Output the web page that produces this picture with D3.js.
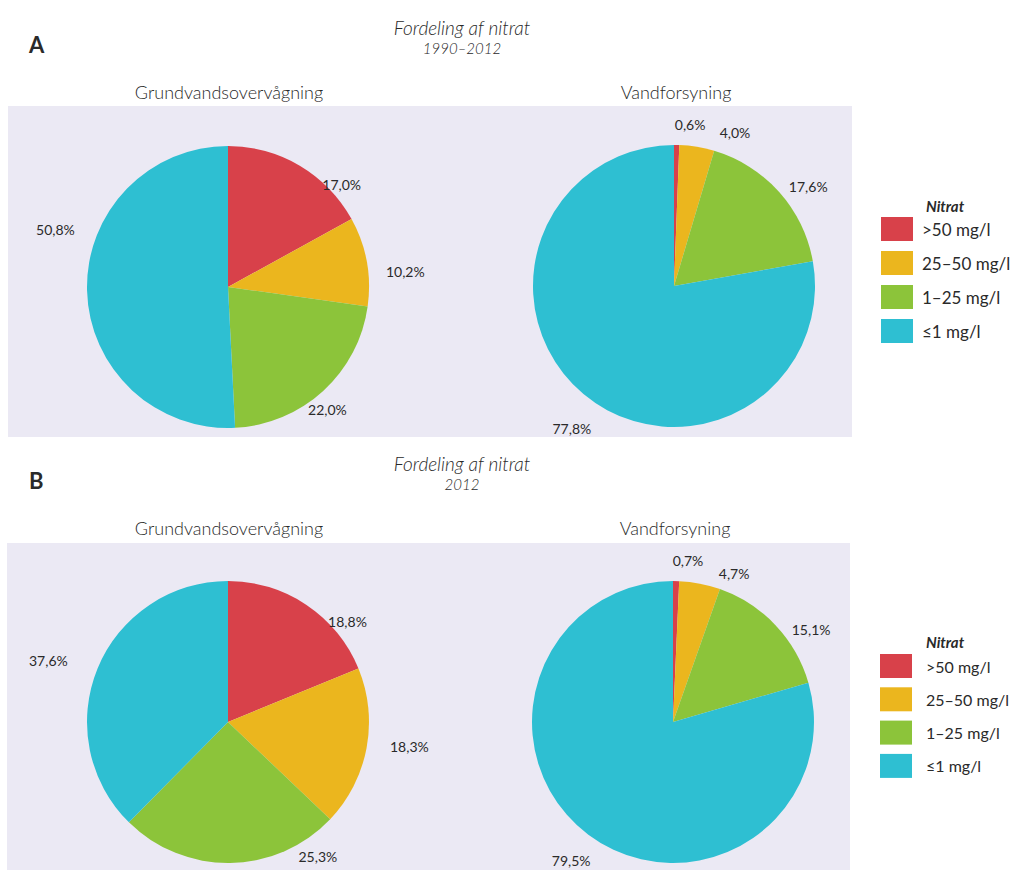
<!DOCTYPE html>
<html>
<head>
<meta charset="utf-8">
<script src="https://cdn.jsdelivr.net/npm/d3@7"></script>
<style>
  html, body { margin: 0; padding: 0; background: #ffffff; }
  svg { display: block; }
  text { font-family: Lato, "Open Sans", "DejaVu Sans", sans-serif; fill: #2a2a2a; }
</style>
</head>
<body>
<svg id="chart" width="1012" height="870"></svg>
<script>
// Nitrate concentration classes (clockwise from 12 o'clock)
const categories = [">50 mg/l", "25–50 mg/l", "1–25 mg/l", "≤1 mg/l"];
const categoryColors = ["#d8414a", "#ebb61e", "#8cc43a", "#2ebfd2"];

// Panel A: 1990–2012
const monitoringA = [17.0, 10.2, 22.0, 50.8];
const supplyA = [0.6, 4.0, 17.6, 77.8];
// Panel B: 2012
const monitoringB = [18.8, 18.3, 25.3, 37.6];
const supplyB = [0.7, 4.7, 15.1, 79.5];

const panelLetters = ["A", "B"];
const panelPeriods = ["1990–2012", "2012"];
const chartTitle = "Fordeling af nitrat";
const pieTitles = ["Grundvandsovervågning", "Vandforsyning"];
const legendTitle = "Nitrat";

// Label placement around each pie: [angle in degrees clockwise from top, distance from centre]
const labelPolar = {
  monitoringA: [[48, 153], [85, 178], [141, 158], [288.5, 182]],
  supplyA: [[5.7, 162], [21.7, 165], [53.5, 167], [215.7, 175]],
  monitoringB: [[50, 156], [97.6, 183], [146.3, 162], [289, 190]],
  supplyB: [[5.3, 162], [22.3, 161], [56.3, 166], [216.3, 172]]
};

const svg = d3.select("#chart");
const fmt = v => d3.format(".1f")(v).replace(".", ",") + "%";
const color = d3.scaleOrdinal().domain(categories).range(categoryColors);

const pie = d3.pie().sort(null).value(d => d.value);

const panels = [
  { letter: panelLetters[0], period: panelPeriods[0], y0: 0,
    bg: { x: 8, y: 106, w: 844, h: 331 },
    pies: [{ data: monitoringA, key: "monitoringA", cx: 228, cy: 287 },
           { data: supplyA, key: "supplyA", cx: 674, cy: 286 }],
    legend: { x: 881, y: 217, step: 34, textX: 922, titleX: 926, titleY: 212, font: 17 } },
  { letter: panelLetters[1], period: panelPeriods[1], y0: 436,
    bg: { x: 7, y: 543, w: 843, h: 327 },
    pies: [{ data: monitoringB, key: "monitoringB", cx: 228, cy: 722 },
           { data: supplyB, key: "supplyB", cx: 673, cy: 722 }],
    legend: { x: 880, y: 654, step: 33.3, textX: 926, titleX: 926, titleY: 648, font: 16 } }
];
const radius = 141;
const arc = d3.arc().innerRadius(0).outerRadius(radius);

panels.forEach(p => {
  const g = svg.append("g");

  g.append("rect")
    .attr("x", p.bg.x).attr("y", p.bg.y)
    .attr("width", p.bg.w).attr("height", p.bg.h)
    .attr("fill", "#ebe9f4");

  g.append("text")
    .attr("x", 29).attr("y", p.y0 + 53)
    .attr("font-size", 22).attr("font-weight", 700)
    .attr("fill", "#111")
    .text(p.letter);

  g.append("text")
    .attr("x", 462).attr("y", p.y0 + 35)
    .attr("text-anchor", "middle")
    .attr("font-size", 19).attr("font-style", "italic").attr("font-weight", 300)
    .attr("fill", "#3a3a3a")
    .text(chartTitle);

  g.append("text")
    .attr("x", 462).attr("y", p.y0 + 54)
    .attr("text-anchor", "middle")
    .attr("font-size", 15).attr("font-style", "italic").attr("font-weight", 300)
    .attr("fill", "#3a3a3a")
    .text(p.period);

  p.pies.forEach((pp, i) => {
    g.append("text")
      .attr("x", pp.cx + (i === 0 ? 1 : 2)).attr("y", p.y0 + 99)
      .attr("text-anchor", "middle")
      .attr("font-size", 18).attr("font-weight", 300)
      .attr("fill", "#333")
      .text(pieTitles[i]);

    const rows = categories.map((c, k) => ({ cat: c, value: pp.data[k] }));
    const arcs = pie(rows);
    const pg = g.append("g").attr("transform", `translate(${pp.cx},${pp.cy})`);

    pg.selectAll("path").data(arcs).join("path")
      .attr("d", arc)
      .attr("fill", d => color(d.data.cat));

    pg.selectAll("text.val").data(arcs).join("text")
      .attr("class", "val")
      .attr("x", (d, k) => labelPolar[pp.key][k][1] * Math.sin(labelPolar[pp.key][k][0] * Math.PI / 180))
      .attr("y", (d, k) => -labelPolar[pp.key][k][1] * Math.cos(labelPolar[pp.key][k][0] * Math.PI / 180))
      .attr("text-anchor", "middle")
      .attr("dominant-baseline", "central")
      .attr("font-size", 14)
      .attr("fill", "#222")
      .text(d => fmt(d.data.value));
  });

  // Legend
  const lg = g.append("g");
  lg.append("text")
    .attr("x", p.legend.titleX).attr("y", p.legend.titleY)
    .attr("font-size", 15).attr("font-weight", 700).attr("font-style", "italic")
    .attr("fill", "#222")
    .text(legendTitle);

  const items = lg.selectAll("g.item").data(categories).join("g")
    .attr("class", "item")
    .attr("transform", (d, k) => `translate(${p.legend.x},${p.legend.y + k * p.legend.step})`);
  items.append("rect")
    .attr("width", 32).attr("height", 24)
    .attr("fill", d => color(d));
  items.append("text")
    .attr("x", p.legend.textX - p.legend.x).attr("y", 12)
    .attr("dominant-baseline", "central")
    .attr("font-size", p.legend.font)
    .attr("fill", "#222")
    .text(d => d);
});
</script>
</body>
</html>
